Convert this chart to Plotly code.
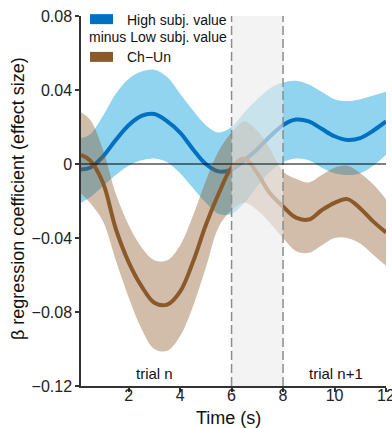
import plotly.graph_objects as go

# ---- data ----
time_s = [0.15, 0.5, 1.0, 1.5, 2.0, 2.5, 3.0, 3.5, 4.0, 4.5, 5.0, 5.5, 6.0,
          6.5, 7.0, 7.5, 8.0, 8.5, 9.0, 9.5, 10.0, 10.5, 11.0, 11.5, 12.0]

value_mean = [-0.003, -0.002, 0.004, 0.013, 0.021, 0.026, 0.027, 0.023, 0.017, 0.008, 0.000, -0.004, -0.003,
              0.002, 0.008, 0.015, 0.021, 0.024, 0.023, 0.019, 0.015, 0.013, 0.014, 0.018, 0.023]
value_upper = [0.014, 0.016, 0.026, 0.038, 0.046, 0.050, 0.051, 0.047, 0.038, 0.029, 0.021, 0.017, 0.020,
               0.028, 0.035, 0.041, 0.044, 0.045, 0.043, 0.039, 0.035, 0.034, 0.035, 0.037, 0.039]
value_lower = [-0.021, -0.018, -0.012, -0.006, -0.001, 0.002, 0.003, 0.001, -0.005, -0.013, -0.021, -0.027, -0.027,
               -0.021, -0.012, -0.004, 0.001, 0.003, 0.002, -0.002, -0.005, -0.006, -0.005, -0.001, 0.005]

chun_mean = [0.005, 0.002, -0.010, -0.035, -0.053, -0.066, -0.075, -0.076, -0.069, -0.053, -0.033, -0.016, -0.002,
             0.003, -0.005, -0.016, -0.023, -0.029, -0.030, -0.025, -0.021, -0.019, -0.024, -0.031, -0.037]
chun_upper = [0.028, 0.024, 0.008, -0.016, -0.033, -0.045, -0.052, -0.052, -0.044, -0.028, -0.009, 0.007, 0.017,
              0.023, 0.018, 0.008, -0.004, -0.008, -0.010, -0.006, -0.002, -0.001, -0.005, -0.011, -0.019]
chun_lower = [-0.016, -0.021, -0.031, -0.052, -0.072, -0.089, -0.100, -0.101, -0.093, -0.077, -0.056, -0.034, -0.025,
              -0.021, -0.025, -0.032, -0.040, -0.047, -0.048, -0.044, -0.040, -0.040, -0.043, -0.049, -0.055]

x_ticks = [2, 4, 6, 8, 10, 12]
y_ticks = [0.08, 0.04, 0, -0.04, -0.08, -0.12]
y_ticktext = ["0.08", "0.04", "0", "\u22120.04", "\u22120.08", "\u22120.12"]

gap_start, gap_end = 6, 8
x_range = [0.15, 12.0001]
y_range = [-0.12, 0.08]

# ---- styles ----
FONT = "Liberation Sans, Arial, sans-serif"
BLUE = "#0070C0"
BLUE_BAND = "rgb(145,212,240)"
BROWN = "#8B5A2B"
BROWN_BAND = "rgba(139,90,43,0.4)"

fig = go.Figure()


def add_series(lower, upper, mean, band_color, line_color):
    fig.add_trace(go.Scatter(x=time_s, y=lower, mode="lines", line=dict(width=0, shape="spline"),
                             showlegend=False, hoverinfo="skip"))
    fig.add_trace(go.Scatter(x=time_s, y=upper, mode="lines", line=dict(width=0, shape="spline"),
                             fill="tonexty", fillcolor=band_color, showlegend=False, hoverinfo="skip"))
    fig.add_trace(go.Scatter(x=time_s, y=mean, mode="lines",
                             line=dict(width=4, color=line_color, shape="spline"), showlegend=False))


add_series(value_lower, value_upper, value_mean, BLUE_BAND, BLUE)
add_series(chun_lower, chun_upper, chun_mean, BROWN_BAND, BROWN)

shapes = [
    dict(type="rect", xref="x", yref="y", x0=gap_start, x1=gap_end, y0=y_range[0], y1=y_range[1],
         fillcolor="rgba(236,236,236,0.62)", line=dict(width=0), layer="above"),
    dict(type="line", xref="x", yref="paper", x0=gap_start, x1=gap_start, y0=0, y1=1,
         line=dict(color="rgb(140,140,140)", width=1.5, dash="9px,4px"), layer="above"),
    dict(type="line", xref="x", yref="paper", x0=gap_end, x1=gap_end, y0=0, y1=1,
         line=dict(color="rgb(140,140,140)", width=1.5, dash="9px,4px"), layer="above"),
    dict(type="line", xref="paper", yref="y", x0=0, x1=1, y0=0, y1=0,
         line=dict(color="black", width=1.2), layer="above"),
    # legend swatches
    dict(type="rect", xref="paper", yref="paper", x0=0.0295, x1=0.105, y0=0.978, y1=1.005,
         fillcolor=BLUE, line=dict(width=0), layer="above"),
    dict(type="rect", xref="paper", yref="paper", x0=0.0295, x1=0.105, y0=0.876, y1=0.903,
         fillcolor=BROWN, line=dict(width=0), layer="above"),
]

annotations = [
    dict(text="High subj. value", xref="paper", yref="paper", x=0.144, y=0.989,
         xanchor="left", yanchor="middle", showarrow=False, font=dict(size=14, color="#111", family=FONT)),
    dict(text="minus Low subj. value", xref="paper", yref="paper", x=0.0197, y=0.943,
         xanchor="left", yanchor="middle", showarrow=False, font=dict(size=14, color="#111", family=FONT)),
    dict(text="Ch\u2212Un", xref="paper", yref="paper", x=0.144, y=0.889,
         xanchor="left", yanchor="middle", showarrow=False, font=dict(size=14, color="#111", family=FONT)),
    dict(text="trial n", xref="x", yref="y", x=3.0, y=-0.113, xanchor="center", yanchor="middle",
         showarrow=False, font=dict(size=15, color="#111", family=FONT)),
    dict(text="trial n+1", xref="x", yref="y", x=10.05, y=-0.113, xanchor="center", yanchor="middle",
         showarrow=False, font=dict(size=15, color="#111", family=FONT)),
    dict(text="Time (s)", xref="paper", yref="paper", x=0.482, y=-0.0865, xanchor="center", yanchor="middle",
         showarrow=False, font=dict(size=18, color="#111", family=FONT)),
    dict(text="\u03b2 regression coefficient (effect size)", xref="paper", yref="paper", x=-0.2066, y=0.508,
         xanchor="center", yanchor="middle", textangle=-90, showarrow=False,
         font=dict(size=18, color="#111", family=FONT)),
]

axis_common = dict(showgrid=False, zeroline=False, showline=True, linecolor="#333", linewidth=1.5,
                   ticks="outside", ticklen=4, tickwidth=1.5, tickcolor="#333",
                   tickfont=dict(size=16, color="#222", family=FONT), automargin=False,
                   ticklabeloverflow="allow")

fig.update_layout(
    width=392, height=428,
    margin=dict(l=81, r=6, t=16, b=42),
    paper_bgcolor="white", plot_bgcolor="white",
    font=dict(family=FONT),
    xaxis=dict(range=x_range, tickvals=x_ticks, ticklabelstandoff=-10, **axis_common),
    yaxis=dict(range=y_range, tickvals=y_ticks, ticktext=y_ticktext, **axis_common),
    shapes=shapes, annotations=annotations, showlegend=False,
)

fig.write_html("out.html")
